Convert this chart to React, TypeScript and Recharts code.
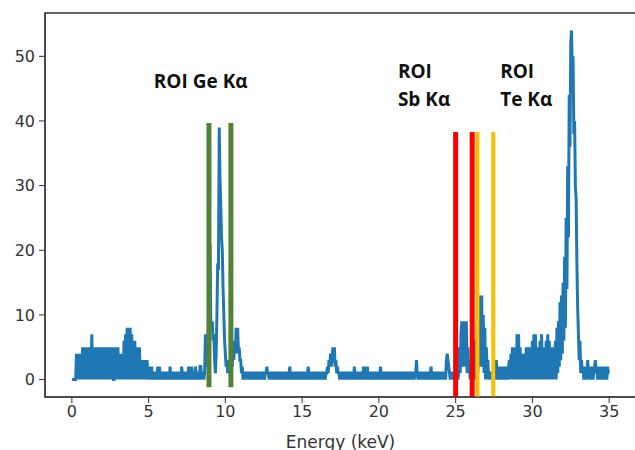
import {
  LineChart,
  Line,
  XAxis,
  YAxis,
  ReferenceLine,
  ReferenceArea,
  ReferenceDot,
} from "recharts";

// spectrum counts, one channel per 0.05 keV starting at 0 keV (20 per row = 1 keV)
const binWidth = 0.05;
const counts: number[] = [
  0, 0, 0, 0, 0, 0, 4, 1, 4, 0, 4, 1, 4, 0, 5, 0, 4, 1, 5, 0, // 0
  5, 1, 5, 0, 5, 1, 7, 0, 5, 1, 4, 0, 5, 1, 5, 0, 4, 1, 5, 0, // 1
  5, 1, 5, 0, 5, 1, 5, 0, 5, 1, 5, 0, 5, 1, 0, 0, 5, 1, 5, 0, // 2
  5, 1, 4, 0, 4, 1, 4, 0, 6, 1, 7, 0, 8, 1, 8, 0, 8, 1, 7, 0, // 3
  6, 1, 6, 0, 5, 1, 4, 0, 5, 1, 3, 0, 3, 1, 3, 0, 2, 1, 3, 0, // 4
  2, 0, 1, 1, 2, 0, 1, 1, 1, 0, 1, 1, 2, 0, 2, 1, 1, 0, 1, 1, // 5
  1, 0, 1, 1, 0, 1, 1, 0, 2, 0, 1, 1, 1, 0, 1, 1, 0, 1, 1, 0, // 6
  1, 1, 0, 2, 1, 0, 1, 1, 0, 1, 1, 0, 2, 1, 0, 1, 2, 0, 1, 1, // 7
  0, 2, 1, 0, 1, 1, 0, 2, 2, 0, 1, 1, 0, 1, 7, 3, 6, 2, 9, 5, // 8
  21, 9, 8, 9, 6, 7, 3, 1, 4, 10, 18, 17, 39, 31, 27, 22, 20, 14, 10, 6, // 9
  4, 2, 3, 1, 3, 1, 2, 1, 3, 2, 5, 3, 6, 4, 8, 6, 8, 4, 5, 3, // 10
  3, 1, 2, 0, 1, 1, 0, 1, 1, 0, 1, 1, 0, 1, 1, 0, 1, 1, 0, 1, // 11
  1, 0, 1, 1, 0, 1, 1, 0, 1, 1, 1, 0, 1, 1, 2, 1, 1, 0, 1, 1, // 12
  0, 1, 1, 0, 1, 1, 0, 1, 1, 0, 1, 1, 0, 1, 1, 0, 1, 1, 0, 1, // 13
  1, 0, 1, 1, 2, 0, 1, 1, 0, 1, 1, 0, 1, 1, 0, 1, 1, 0, 1, 1, // 14
  0, 1, 1, 0, 1, 1, 0, 1, 2, 0, 1, 1, 0, 1, 1, 0, 1, 1, 0, 1, // 15
  1, 0, 1, 1, 0, 1, 1, 0, 1, 1, 0, 1, 1, 2, 1, 3, 2, 4, 2, 3, // 16
  5, 3, 5, 2, 3, 1, 2, 1, 1, 0, 1, 1, 0, 1, 1, 0, 1, 1, 0, 1, // 17
  1, 0, 1, 1, 0, 1, 1, 0, 2, 1, 0, 1, 1, 0, 1, 1, 0, 1, 1, 0, // 18
  2, 1, 0, 2, 1, 2, 0, 1, 1, 0, 1, 1, 0, 1, 1, 0, 1, 1, 0, 1, // 19
  1, 0, 2, 1, 0, 1, 1, 0, 1, 1, 0, 1, 1, 0, 1, 1, 0, 1, 1, 0, // 20
  1, 1, 0, 1, 1, 0, 1, 1, 0, 1, 1, 0, 1, 1, 0, 1, 1, 0, 1, 1, // 21
  0, 1, 1, 0, 1, 1, 0, 1, 1, 3, 1, 0, 1, 1, 0, 1, 1, 0, 1, 1, // 22
  0, 1, 1, 0, 1, 1, 0, 1, 2, 0, 1, 1, 0, 1, 1, 0, 1, 1, 0, 1, // 23
  1, 0, 1, 1, 0, 1, 1, 0, 3, 4, 3, 2, 1, 0, 1, 1, 0, 1, 1, 0, // 24
  1, 0, 1, 0, 1, 5, 1, 7, 9, 2, 9, 3, 9, 2, 9, 1, 5, 1, 3, 0, // 25
  3, 1, 6, 0, 6, 1, 5, 0, 9, 1, 12, 2, 13, 3, 13, 2, 10, 1, 8, 0, // 26
  5, 1, 3, 0, 1, 0, 1, 1, 0, 1, 2, 0, 1, 3, 1, 0, 2, 1, 0, 2, // 27
  1, 0, 2, 1, 2, 0, 2, 1, 0, 2, 3, 0, 4, 1, 5, 0, 3, 1, 5, 0, // 28
  7, 1, 7, 0, 5, 1, 4, 0, 3, 1, 4, 0, 5, 1, 5, 0, 5, 1, 4, 0, // 29
  6, 1, 7, 0, 7, 1, 5, 0, 4, 1, 6, 0, 7, 1, 5, 0, 4, 1, 6, 0, // 30
  7, 1, 6, 0, 5, 1, 4, 0, 5, 1, 6, 0, 8, 1, 9, 2, 12, 3, 13, 4, // 31
  15, 6, 19, 8, 25, 14, 33, 22, 44, 36, 52, 54, 48, 50, 38, 40, 30, 28, 18, 11, // 32
  7, 3, 6, 1, 3, 1, 2, 0, 2, 1, 1, 0, 3, 1, 2, 0, 1, 1, 2, 0, // 33
  1, 2, 3, 1, 2, 0, 1, 1, 2, 0, 2, 1, 1, 0, 2, 1, 1, 0, 2, 1, // 34
  1, // 35
];

const xTicks = [0, 5, 10, 15, 20, 25, 30, 35];
const yTicks = [0, 10, 20, 30, 40, 50];

// ROI boundaries (keV) with their drawn extent in counts
const roiLines = [
  { x: 8.93, y0: -1.2, y1: 39.7, color: "#548235", w: 5 },
  { x: 10.36, y0: -1.2, y1: 39.7, color: "#548235", w: 5 },
  { x: 25.0, y0: -2.7, y1: 38.3, color: "#ff0000", w: 5 },
  { x: 26.08, y0: -2.7, y1: 38.3, color: "#ff0000", w: 5 },
  { x: 26.42, y0: -2.7, y1: 38.3, color: "#ffc000", w: 4 },
  { x: 27.45, y0: -2.7, y1: 38.3, color: "#ffc000", w: 4 },
];

const labels = [
  { x: 5.34, y: 45.1, lines: ["ROI Ge Kα"] },
  { x: 21.24, y: 46.6, lines: ["ROI", "Sb Kα"] },
  { x: 27.9, y: 46.6, lines: ["ROI", "Te Kα"] },
];

const data = counts.map((c, i) => ({ e: +(i * binWidth).toFixed(2), c }));

const tickStyle = { fontSize: 16, fill: "#333", fontFamily: "DejaVu Sans" };

export default function App() {
  return (
    <div style={{ position: "absolute", left: 0, top: 0, background: "#fff" }}>
      <LineChart
        width={635}
        height={450}
        data={data}
        margin={{ top: 13, right: -1, left: 0, bottom: 0 }}
      >
        <XAxis
          dataKey="e"
          type="number"
          domain={[-1.75, 36.75]}
          ticks={xTicks}
          tick={tickStyle}
          tickSize={6}
          tickMargin={3}
          height={53}
          allowDataOverflow
          stroke="#333"
          label={{
            value: "Energy (keV)",
            position: "insideBottom",
            offset: 2,
            style: { fontSize: 17, fill: "#333", fontFamily: "DejaVu Sans" },
          }}
        />
        <YAxis
          type="number"
          domain={[-2.7, 56.7]}
          ticks={yTicks}
          tick={tickStyle}
          tickSize={6}
          tickMargin={4}
          width={45}
          allowDataOverflow
          stroke="#333"
        />
        <ReferenceArea
          x1={-1.75}
          x2={36.75}
          y1={-2.7}
          y2={56.7}
          fill="none"
          stroke="#333"
          strokeWidth={1.5}
        />
        <Line
          dataKey="c"
          stroke="#1f77b4"
          strokeWidth={3}
          dot={false}
          isAnimationActive={false}
        />
        {roiLines.map((r, i) => (
          <ReferenceLine
            key={i}
            segment={[
              { x: r.x, y: r.y0 },
              { x: r.x, y: r.y1 },
            ]}
            stroke={r.color}
            strokeWidth={r.w}
          />
        ))}
        {labels.map((l, i) => (
          <ReferenceDot
            key={"l" + i}
            x={l.x}
            y={l.y}
            r={0}
            fill="none"
            stroke="none"
            label={(p: any) => (
              <text
                x={p.viewBox.x}
                y={p.viewBox.y}
                fontFamily="Open Sans"
                fontWeight="bold"
                fontSize={19}
                fill="#111"
              >
                {l.lines.map((t, j) => (
                  <tspan key={j} x={p.viewBox.x} dy={j === 0 ? 0 : 28}>
                    {t}
                  </tspan>
                ))}
              </text>
            )}
          />
        ))}
      </LineChart>
    </div>
  );
}
